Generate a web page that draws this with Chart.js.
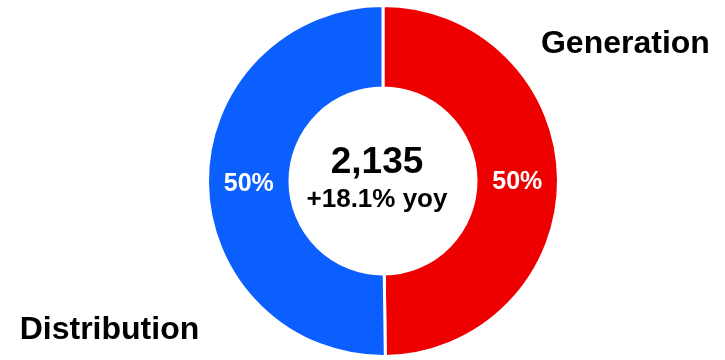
<!DOCTYPE html>
<html>
<head>
<meta charset="utf-8">
<script src="https://cdn.jsdelivr.net/npm/chart.js@4.4.0/dist/chart.umd.min.js"></script>
<style>
    html, body { margin: 0; padding: 0; background: #ffffff; }
    #wrap { width: 725px; height: 360px; position: relative; }
</style>
</head>
<body>
<div id="wrap"><canvas id="segmentChart"></canvas></div>
<script>
// Segment split (total 2,135)
const segments = ["Generation", "Distribution"];
const segmentValues = [1063, 1072];
const segmentColors = ["#EE0000", "#0B5FFF"];
const totalLabel = "2,135";
const growthLabel = "+18.1% yoy";

const FONT = "'Liberation Sans', Arial, sans-serif";

// Percent labels on the ring, centre text and segment names
const labelPlugin = {
    id: 'segmentLabels',
    afterDatasetsDraw(chart) {
        const ctx = chart.ctx;
        const meta = chart.getDatasetMeta(0);
        const total = segmentValues.reduce((a, b) => a + b, 0);
        ctx.save();
        ctx.textAlign = 'center';
        ctx.textBaseline = 'middle';
        ctx.fillStyle = '#ffffff';
        ctx.font = 'bold 25px ' + FONT;
        meta.data.forEach((arc, i) => {
            const pos = arc.tooltipPosition();
            const pct = Math.round(segmentValues[i] / total * 100) + '%';
            ctx.fillText(pct, pos.x, pos.y + 2);
        });

        const arc0 = meta.data[0];
        const cx = arc0.x, cy = arc0.y, r = arc0.outerRadius;
        ctx.fillStyle = '#000000';
        ctx.font = 'bold 37px ' + FONT;
        ctx.fillText(totalLabel, cx - 6, cy - 18);
        ctx.font = 'bold 26px ' + FONT;
        ctx.fillText(growthLabel, cx - 6, cy + 19);

        ctx.font = 'bold 32px ' + FONT;
        ctx.textBaseline = 'alphabetic';
        ctx.textAlign = 'left';
        ctx.fillText(segments[0], cx + r * 0.9, cy - r * 0.73);
        ctx.fillText(segments[1], cx - r * 2.07, cy + r * 0.9);
        ctx.restore();
    }
};

new Chart(document.getElementById('segmentChart').getContext('2d'), {
    type: 'doughnut',
    data: {
        labels: segments,
        datasets: [{
            data: segmentValues,
            backgroundColor: segmentColors,
            borderColor: '#ffffff',
            borderWidth: 3
        }]
    },
    options: {
        responsive: true,
        maintainAspectRatio: false,
        animation: false,
        cutout: '53%',
        layout: { padding: { top: 4, bottom: 2, left: 41, right: 0 } },
        plugins: {
            legend: { display: false },
            tooltip: { enabled: false }
        }
    },
    plugins: [labelPlugin]
});
</script>
</body>
</html>
